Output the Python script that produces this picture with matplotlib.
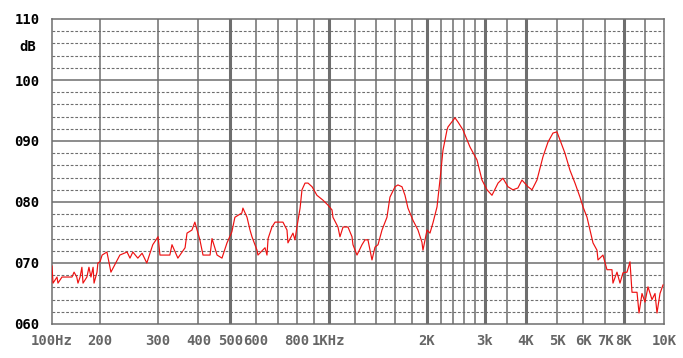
import matplotlib
matplotlib.use('Agg')
import matplotlib.pyplot as plt
from matplotlib.ticker import FixedLocator, NullLocator
import numpy as np

# ----- data (frequency in Hz, level in dB) -----
freq = [100, 101.5, 107.5, 109, 115.5, 133.5, 137.5, 143, 145.5, 150, 154, 156.5,
        165.5, 170.5, 175.5, 181, 183.5, 191.5, 194, 200, 203, 210, 216, 230,
        242, 247, 252, 261, 269, 278, 290, 301, 305, 327, 332, 346, 364, 369,
        382, 390, 404, 413, 434, 440, 456, 472, 489, 506, 517, 543, 547, 563,
        575, 583, 604, 608, 639, 648, 653, 671, 686, 725, 746, 751, 778, 789,
        800, 818, 829, 847, 865, 890, 921, 961, 995, 1024, 1031, 1068, 1083,
        1107, 1146, 1179, 1187, 1221, 1265, 1292, 1319, 1357, 1386, 1416, 1456,
        1508, 1540, 1596, 1629, 1676, 1712, 1748, 1811, 1876, 1929, 1943, 1999,
        2041, 2085, 2145, 2190, 2237, 2301, 2317, 2434, 2487, 2576, 2706, 2842,
        2944, 3050, 3158, 3296, 3412, 3534, 3660, 3791, 3900, 4069, 4186, 4335,
        4521, 4683, 4851, 4990, 5096, 5279, 5469, 5666, 5868, 5995, 6166, 6295,
        6431, 6614, 6661, 6899, 7096, 7350, 7402, 7615, 7777, 7943, 8135, 8272,
        8365, 8602, 8699, 8845, 8994, 9146, 9352, 9511, 9617, 9779, 9945]
level = [69.5, 66.7, 67.7, 66.7, 67.7, 67.7, 68.5, 67.7, 66.7, 67.7, 69.3, 66.7,
         67.7, 69.3, 67.7, 69.3, 66.7, 68.5, 70.0, 70.2, 71.3, 71.8, 68.5, 71.3,
         71.8, 70.8, 71.8, 70.8, 71.6, 70.0, 73.0, 74.3, 71.3, 71.3, 73.0, 70.8, 72.5, 74.9,
         75.4, 76.7, 73.8, 71.3, 71.3, 74.0, 71.3, 70.8, 73.3, 75.1, 77.5, 78.2, 79.0, 77.5,
         75.4, 74.3, 72.1, 71.3, 72.5, 71.3, 74.0, 75.9, 76.7, 76.7, 75.4, 73.3, 74.9, 73.8,
         75.9, 79.0, 82.0, 83.1, 83.1, 82.5, 81.1, 80.3, 79.5, 78.7, 77.5, 75.9, 74.3,
         75.9, 75.9, 74.3, 73.0, 71.3, 73.0, 73.8, 73.8, 70.5, 72.6, 73.0, 75.4,
         77.5, 80.8, 82.5, 82.8, 82.5, 81.1, 79.0, 77.0, 75.4, 73.4, 72.1, 75.4,
         74.9, 76.6, 79.2, 83.6, 88.5, 91.8, 92.3, 93.8, 93.1, 91.8, 89.0, 86.9,
         83.6, 82.0, 81.1, 83.1, 83.9, 82.5, 82.0, 82.3, 83.6, 82.5, 82.0, 83.6,
         87.4, 89.8, 91.3, 91.5, 90.2, 88.0, 85.2, 83.1, 80.8, 79.2, 77.5, 75.4,
         73.3, 72.1, 70.5, 71.3, 68.9, 68.9, 66.7, 68.5, 66.7, 68.4, 68.5, 70.2,
         65.2, 65.2, 61.8, 65.0, 63.6, 66.1, 64.0, 65.0, 61.8, 65.0, 66.4]

xtick_freqs = [100, 200, 300, 400, 500, 600, 800, 1000, 2000, 3000, 4000,
               5000, 6000, 7000, 8000, 10000]
xtick_labels = ['100Hz', '200', '300', '400', '500', '600', '800', '1KHz', '2K',
                '3k', '4K', '5K', '6K', '7K', '8K', '10K']
thin_lines = [200, 300, 400, 600, 700, 800, 900, 1200, 1400, 1600, 1800,
              2200, 2400, 2600, 2800, 3500, 5000, 6000, 7000, 9000]
thick_lines = [500, 1000, 2000, 3000, 4000, 8000]
ytick_vals = [60, 70, 80, 90, 100, 110]
ytick_labels = ['060', '070', '080', '090', '100', '110']

# the analyser's axis is log, but the 100-200 Hz octave is squeezed
KNOT_LOG = np.log10([100, 200, 8000, 10000])
KNOT_POS = np.array([0.0, 48.0, 572.0, 612.0])


def fwd(f):
    f = np.clip(np.asarray(f, dtype=float), 1e-6, None)
    return np.interp(np.log10(f), KNOT_LOG, KNOT_POS)


def inv(p):
    return 10 ** np.interp(np.asarray(p, dtype=float), KNOT_POS, KNOT_LOG)


GRID = '#6e6e6e'
W, H = 683, 358
fig = plt.figure(figsize=(W / 100, H / 100), dpi=100)
ax = fig.add_axes([52 / W, 1 - 324 / H, 612 / W, 305 / H])
ax.set_xscale('function', functions=(fwd, inv))
ax.set_xlim(100, 10000)
ax.set_ylim(60, 110)

# grid
for y in range(62, 110, 2):
    if y % 10:
        ax.axhline(y, color=GRID, lw=0.8, dashes=(2.5, 1.6), zorder=1)
    else:
        ax.axhline(y, color=GRID, lw=1.1, zorder=1)
for f in thin_lines:
    ax.axvline(f, color=GRID, lw=1.1, zorder=1)
for f in thick_lines:
    ax.axvline(f, color=GRID, lw=2.2, zorder=1)

ax.plot(freq, level, color='#ee1111', lw=0.85, zorder=3)

for s in ax.spines.values():
    s.set_color(GRID)
    s.set_linewidth(1.1)

ax.xaxis.set_major_locator(FixedLocator(xtick_freqs))
ax.xaxis.set_minor_locator(NullLocator())
ax.set_xticklabels(xtick_labels)
ax.set_yticks(ytick_vals)
ax.set_yticklabels(ytick_labels)
ax.tick_params(axis='both', length=0)
ax.tick_params(axis='x', pad=7, colors='#666666', labelsize=10)
ax.tick_params(axis='y', pad=9, colors='black', labelsize=10)
for lab in ax.get_xticklabels() + ax.get_yticklabels():
    lab.set_family('DejaVu Sans Mono')
    lab.set_fontweight('bold')

fig.text(19 / W, 1 - 47 / H, 'dB', ha='left', va='center', fontsize=10,
         family='DejaVu Sans Mono', fontweight='bold', color='black')

fig.savefig('out.png', dpi=100)
